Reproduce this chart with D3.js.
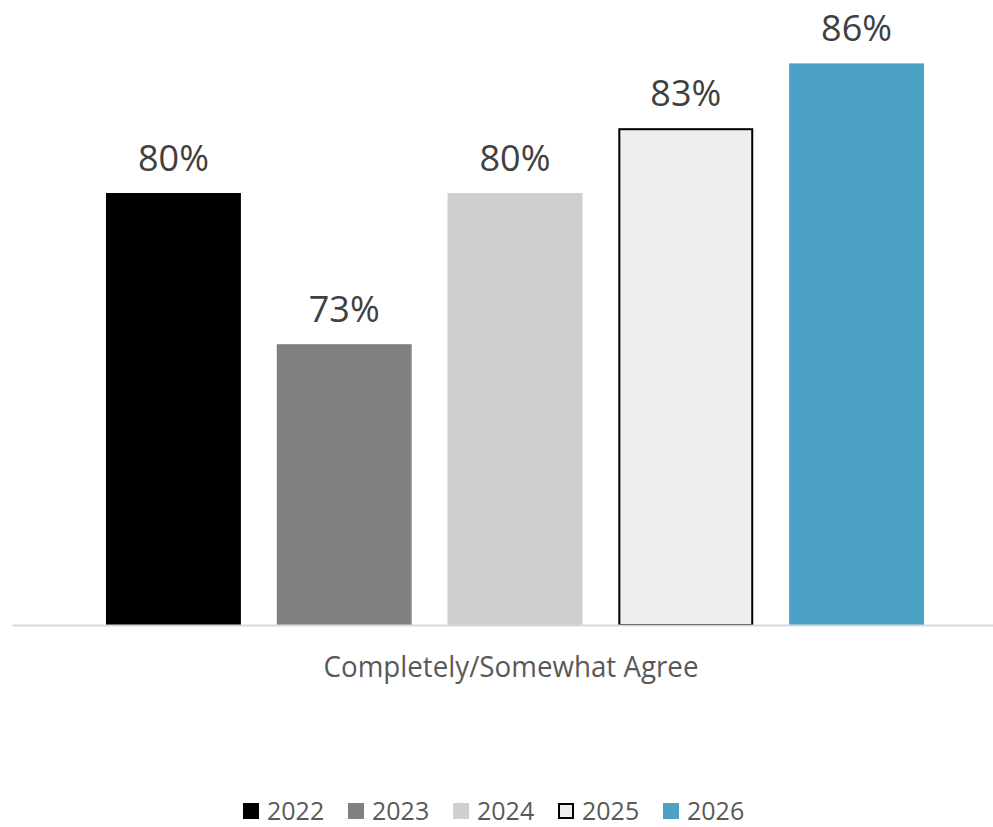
<!DOCTYPE html>
<html>
<head>
<meta charset="utf-8">
<script src="https://cdn.jsdelivr.net/npm/d3@7"></script>
<style>
  html, body { margin: 0; padding: 0; background: #ffffff; }
  svg { display: block; font-family: "Open Sans", "Noto Sans", sans-serif; }
</style>
</head>
<body>
<svg id="chart" width="993" height="827"></svg>
<script>
// Survey share answering Completely/Somewhat Agree, by year
const years = ["2022", "2023", "2024", "2025", "2026"];
const values = [80, 73, 80, 83, 86];
const category = "Completely/Somewhat Agree";
const fills = ["#000000", "#808080", "#D0CECE", "#EEEEEE", "#4BA1C6"];
const strokes = [null, null, null, "#000000", null];

const svg = d3.select("#chart");

const x = d3.scaleBand()
  .domain(years)
  .range([106, 924])
  .paddingInner(0.21)
  .paddingOuter(0);

const baseY = 625;
const y = d3.scaleLinear()
  .domain([60, 86])
  .range([baseY, 63.4]);

// bars
svg.append("g").selectAll("rect")
  .data(years)
  .enter().append("rect")
  .attr("x", d => x(d))
  .attr("width", x.bandwidth())
  .attr("y", (d, i) => y(values[i]))
  .attr("height", (d, i) => baseY - y(values[i]))
  .attr("fill", (d, i) => fills[i]);

// outlined bar (2025)
svg.append("g").selectAll("rect")
  .data(years.filter((d, i) => strokes[i]))
  .enter().append("rect")
  .attr("x", d => x(d) + 1)
  .attr("width", x.bandwidth() - 2)
  .attr("y", d => y(values[years.indexOf(d)]) + 1)
  .attr("height", d => baseY - y(values[years.indexOf(d)]) - 1)
  .attr("fill", "none")
  .attr("stroke", d => strokes[years.indexOf(d)])
  .attr("stroke-width", 2);

// category axis line
const xAxis = d3.axisBottom(d3.scaleLinear().domain([0, 1]).range([12, 1020]))
  .ticks(0).tickSize(0).tickFormat("");
const axisG = svg.append("g").attr("transform", `translate(0,${baseY})`).call(xAxis);
axisG.select(".domain").attr("stroke", "#D9D9D9").attr("stroke-width", 2);

// value labels
svg.append("g").selectAll("text")
  .data(years)
  .enter().append("text")
  .attr("x", d => x(d) + x.bandwidth() / 2)
  .attr("y", (d, i) => y(values[i]) - 22)
  .attr("text-anchor", "middle")
  .attr("font-size", 36)
  .attr("fill", "#404040")
  .text((d, i) => values[i] + "%");

// category label
svg.append("text")
  .attr("x", 511)
  .attr("y", 677)
  .attr("text-anchor", "middle")
  .attr("font-size", 30)
  .attr("textLength", 375)
  .attr("lengthAdjust", "spacingAndGlyphs")
  .attr("fill", "#595959")
  .text(category);

// legend
const legend = svg.append("g").selectAll("g")
  .data(years)
  .enter().append("g")
  .attr("transform", (d, i) => `translate(${243 + i * 105},803)`);

legend.append("rect")
  .attr("x", (d, i) => strokes[i] ? 1 : 0)
  .attr("y", (d, i) => strokes[i] ? 1 : 0)
  .attr("width", (d, i) => strokes[i] ? 14 : 16)
  .attr("height", (d, i) => strokes[i] ? 14 : 16)
  .attr("fill", (d, i) => fills[i])
  .attr("stroke", (d, i) => strokes[i] || "none")
  .attr("stroke-width", 2);

legend.append("text")
  .attr("x", 24)
  .attr("y", 17)
  .attr("font-size", 25)
  .attr("fill", "#595959")
  .text(d => d);
</script>
</body>
</html>
